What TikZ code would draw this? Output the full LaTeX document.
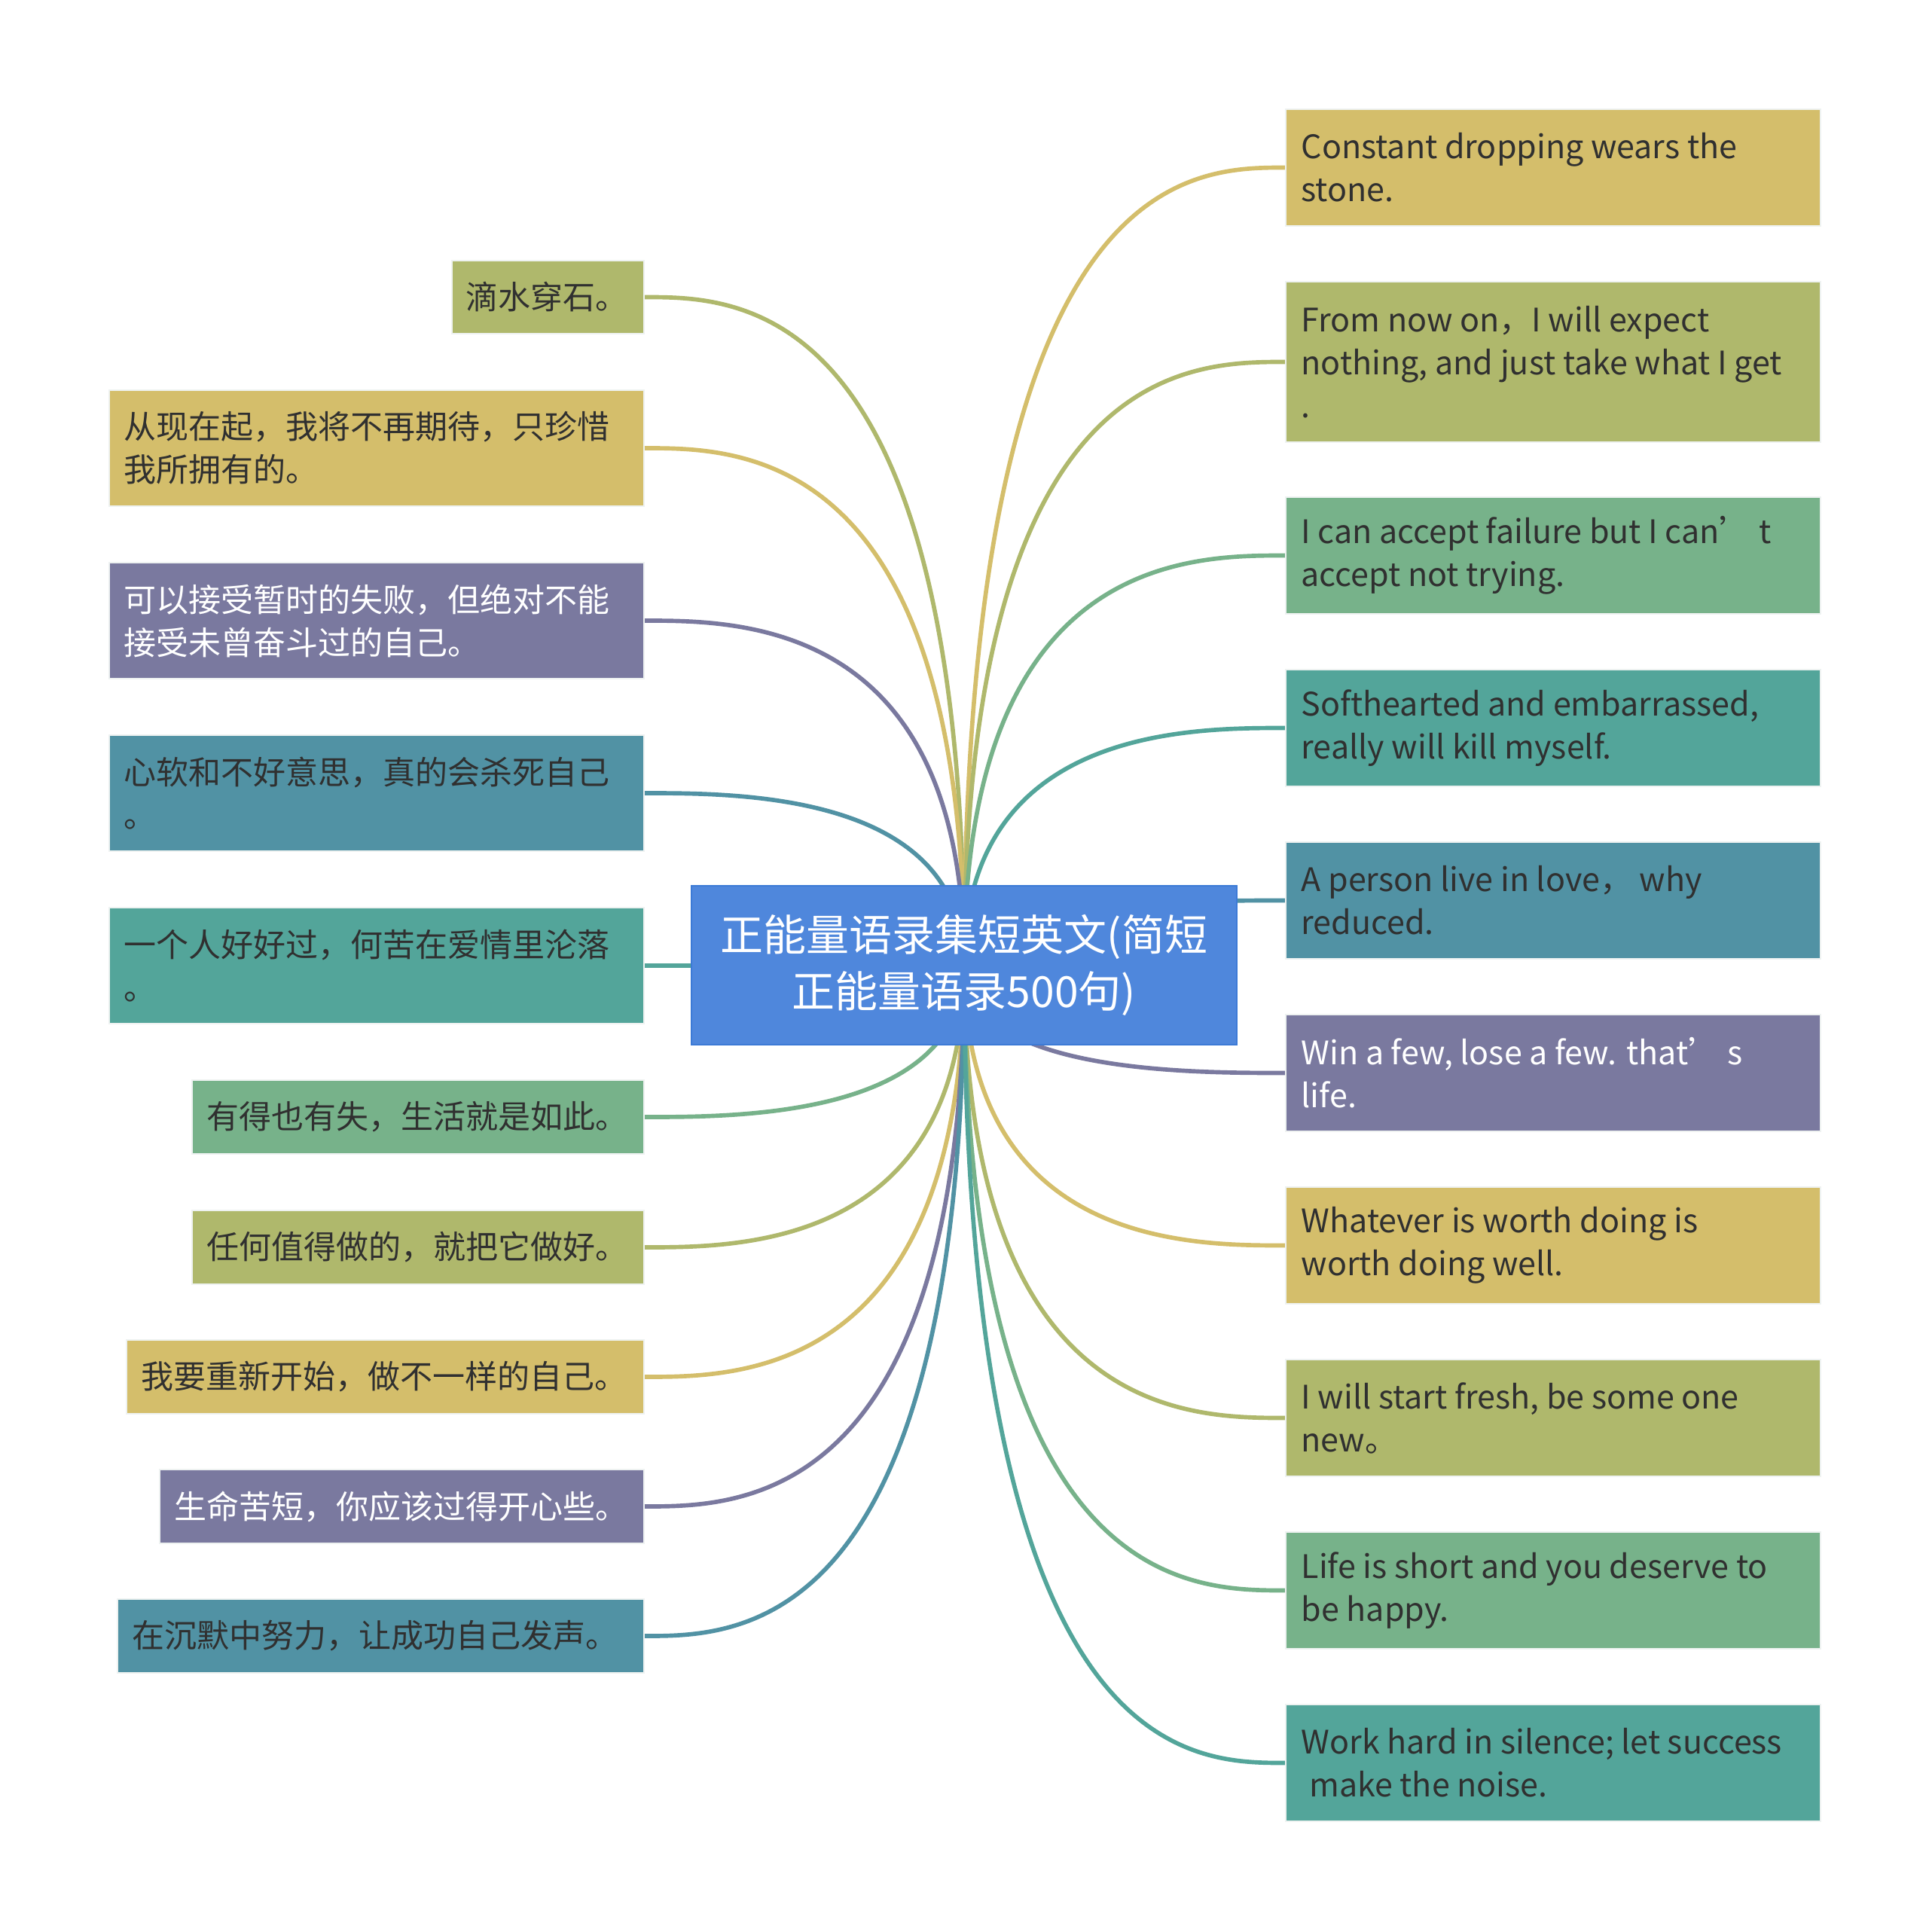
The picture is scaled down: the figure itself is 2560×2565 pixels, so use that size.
\documentclass[tikz,border=0pt]{standalone}
\usepackage{fontspec}
\setmainfont{Noto Sans CJK SC}
\usetikzlibrary{calc}
\pgfdeclarelayer{bg}
\pgfsetlayers{bg,main}
\definecolor{cgold}{HTML}{D4BE6B}
\definecolor{colive}{HTML}{AFB86C}
\definecolor{cgreen}{HTML}{77B28A}
\definecolor{cteal}{HTML}{53A59A}
\definecolor{cblue}{HTML}{5192A4}
\definecolor{cpurple}{HTML}{7A799F}
\definecolor{ccenter}{HTML}{4F87DC}
\definecolor{ccborder}{HTML}{3C7AD6}
\definecolor{ctext}{HTML}{303030}
\definecolor{cedge}{HTML}{EEF2F1}
\tikzset{
  qbox/.style={rectangle, draw=cedge, line width=0.6pt, inner sep=0pt, anchor=north west},
  qtext/.style={align=left, inner sep=0pt, anchor=west, text=ctext, font=\fontsize{12.9}{17.1}\selectfont},
  cnode/.style={rectangle, fill=ccenter, draw=ccborder, line width=0.8pt, text=white, align=center,
    minimum width=217.2pt, minimum height=63.3pt, inner sep=0pt, font=\fontsize{17.1}{22.5}\selectfont},
  conn/.style={line width=1.7pt}
}
\newcommand{\lconn}[2]{\draw[conn,#2] (c.center) .. controls (c.center |- #1.east) and ($(#1.east)!0.3!(c.center |- #1.east)$) .. (#1.east);}
\newcommand{\rconn}[2]{\draw[conn,#2] (c.center) .. controls (c.center |- #1.west) and ($(#1.west)!0.3!(c.center |- #1.west)$) .. (#1.west);}
\begin{document}
\begin{tikzpicture}[x=0.3pt,y=-0.3pt]
\useasboundingbox (0,0) rectangle (2560,2565);
% center
\node[cnode] (c) at (1280,1281.5) {正能量语录集短英文(简短\\正能量语录500句)};
% left boxes
\node[qbox, fill=colive, minimum width=76.5pt, minimum height=29.1pt] (l1) at (599,345) {};
\node[qtext] (l1t) at ([xshift=5.7pt]l1.west) {滴水穿石。};
\node[qbox, fill=cgold, minimum width=213pt, minimum height=46.2pt] (l2) at (144,517) {};
\node[qtext] (l2t) at ([xshift=6pt]l2.west) {从现在起，我将不再期待，只珍惜\\我所拥有的。};
\node[qbox, fill=cpurple, minimum width=213pt, minimum height=46.2pt] (l3) at (144,746) {};
\node[qtext, text=white] (l3t) at ([xshift=6pt]l3.west) {可以接受暂时的失败，但绝对不能\\接受未曾奋斗过的自己。};
\node[qbox, fill=cblue, minimum width=213pt, minimum height=46.2pt] (l4) at (144,975) {};
\node[qtext] (l4t) at ([xshift=6pt]l4.west) {心软和不好意思，真的会杀死自己\\。};
\node[qbox, fill=cteal, minimum width=213pt, minimum height=46.2pt] (l5) at (144,1204) {};
\node[qtext] (l5t) at ([xshift=6pt]l5.west) {一个人好好过，何苦在爱情里沦落\\。};
\node[qbox, fill=cgreen, minimum width=180pt, minimum height=29.4pt] (l6) at (254,1433) {};
\node[qtext] (l6t) at ([xshift=6pt]l6.west) {有得也有失，生活就是如此。};
\node[qbox, fill=colive, minimum width=180pt, minimum height=29.4pt] (l7) at (254,1606) {};
\node[qtext] (l7t) at ([xshift=6pt]l7.west) {任何值得做的，就把它做好。};
\node[qbox, fill=cgold, minimum width=206.1pt, minimum height=29.4pt] (l8) at (167,1778) {};
\node[qtext] (l8t) at ([xshift=6pt]l8.west) {我要重新开始，做不一样的自己。};
\node[qbox, fill=cpurple, minimum width=192.9pt, minimum height=29.4pt] (l9) at (211,1950) {};
\node[qtext, text=white] (l9t) at ([xshift=6pt]l9.west) {生命苦短，你应该过得开心些。};
\node[qbox, fill=cblue, minimum width=209.7pt, minimum height=29.4pt] (l10) at (155,2122) {};
\node[qtext] (l10t) at ([xshift=6pt]l10.west) {在沉默中努力，让成功自己发声。};
% right boxes
\node[qbox, fill=cgold, minimum width=213pt, minimum height=46.5pt] (r1) at (1706,144) {};
\node[qtext] (r1t) at ([xshift=6.3pt]r1.west) {Constant dropping wears the\\stone.};
\node[qbox, fill=colive, minimum width=213pt, minimum height=63.9pt] (r2) at (1706,373) {};
\node[qtext] (r2t) at ([xshift=6.3pt]r2.west) {From now on，I will expect\\nothing, and just take what I get\\.};
\node[qbox, fill=cgreen, minimum width=213pt, minimum height=46.5pt] (r3) at (1706,659) {};
\node[qtext] (r3t) at ([xshift=6.3pt]r3.west) {I can accept failure but I can’ t\\accept not trying.};
\node[qbox, fill=cteal, minimum width=213pt, minimum height=46.5pt] (r4) at (1706,888) {};
\node[qtext] (r4t) at ([xshift=6.3pt]r4.west) {Softhearted and embarrassed,\\really will kill myself.};
\node[qbox, fill=cblue, minimum width=213pt, minimum height=46.5pt] (r5) at (1706,1117) {};
\node[qtext] (r5t) at ([xshift=6.3pt]r5.west) {A person live in love， why\\reduced.};
\node[qbox, fill=cpurple, minimum width=213pt, minimum height=46.5pt] (r6) at (1706,1346) {};
\node[qtext, text=white] (r6t) at ([xshift=6.3pt]r6.west) {Win a few, lose a few. that’ s\\life.};
\node[qbox, fill=cgold, minimum width=213pt, minimum height=46.5pt] (r7) at (1706,1575) {};
\node[qtext] (r7t) at ([xshift=6.3pt]r7.west) {Whatever is worth doing is\\worth doing well.};
\node[qbox, fill=colive, minimum width=213pt, minimum height=46.5pt] (r8) at (1706,1804) {};
\node[qtext] (r8t) at ([xshift=6.3pt]r8.west) {I will start fresh, be some one\\new。};
\node[qbox, fill=cgreen, minimum width=213pt, minimum height=46.5pt] (r9) at (1706,2033) {};
\node[qtext] (r9t) at ([xshift=6.3pt]r9.west) {Life is short and you deserve to\\be happy.};
\node[qbox, fill=cteal, minimum width=213pt, minimum height=46.5pt] (r10) at (1706,2262) {};
\node[qtext] (r10t) at ([xshift=6.3pt]r10.west) {Work hard in silence; let success\\\hspace*{0.25em}make the noise.};
% connectors
\begin{pgfonlayer}{bg}
\fill[white] (0,0) rectangle (2560,2565);
\lconn{l1}{colive}
\lconn{l2}{cgold}
\lconn{l3}{cpurple}
\lconn{l4}{cblue}
\lconn{l5}{cteal}
\lconn{l6}{cgreen}
\lconn{l7}{colive}
\lconn{l8}{cgold}
\lconn{l9}{cpurple}
\lconn{l10}{cblue}
\rconn{r1}{cgold}
\rconn{r2}{colive}
\rconn{r3}{cgreen}
\rconn{r4}{cteal}
\rconn{r5}{cblue}
\rconn{r6}{cpurple}
\rconn{r7}{cgold}
\rconn{r8}{colive}
\rconn{r9}{cgreen}
\rconn{r10}{cteal}
\end{pgfonlayer}
\end{tikzpicture}
\end{document}
